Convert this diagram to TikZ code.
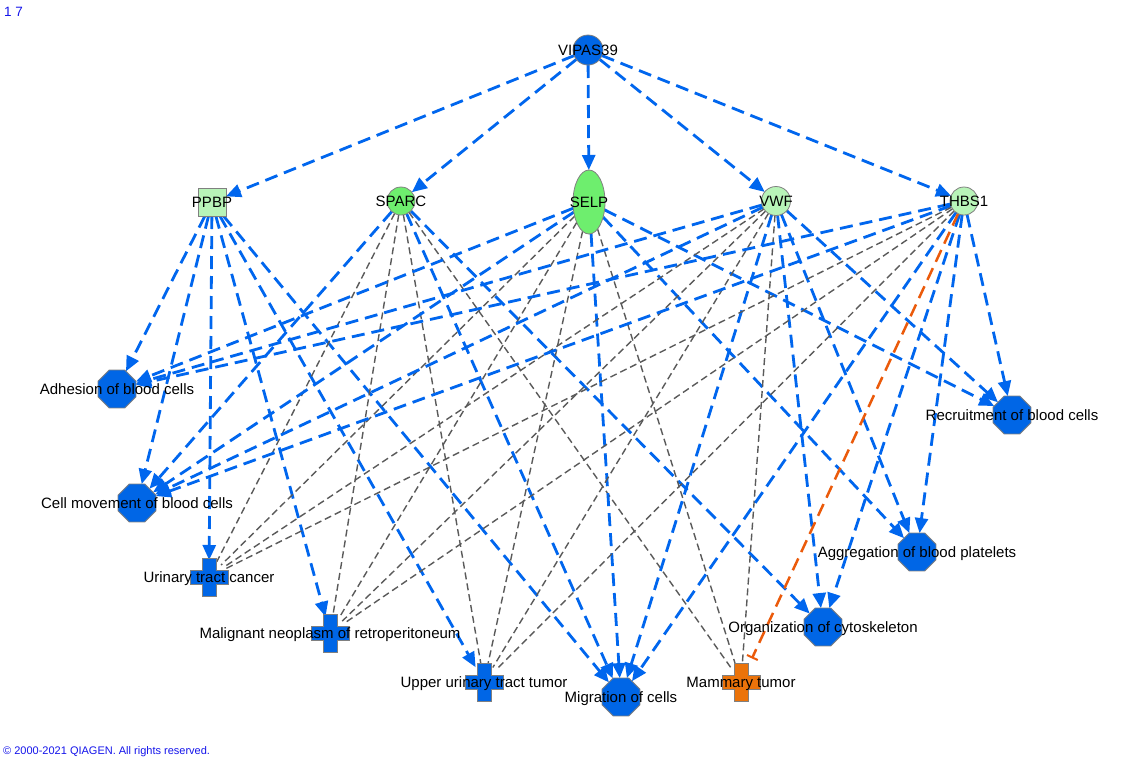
\documentclass[tikz,border=0pt]{standalone}
\usepackage{fontspec}
\setmainfont{Liberation Sans}
\usetikzlibrary{arrows.meta,shapes.geometric}
\definecolor{nblue}{RGB}{0,102,230}
\definecolor{eblue}{RGB}{0,102,238}
\definecolor{lgreen}{RGB}{184,244,184}
\definecolor{mgreen}{RGB}{110,238,110}
\definecolor{norange}{RGB}{235,115,10}
\definecolor{eorange}{RGB}{235,90,10}
\definecolor{egrey}{RGB}{90,90,90}
\definecolor{nborder}{RGB}{128,128,128}
\definecolor{cblue}{RGB}{20,20,235}
\pgfdeclarelayer{bg}
\pgfdeclarelayer{edges}
\pgfsetlayers{bg,edges,main}
\tikzset{
  lbl/.style={font=\fontsize{15}{18}\selectfont, inner sep=0pt, text=black,
    text height=10.7pt, text depth=0pt},
  gene/.style={draw=nborder, line width=0.8pt, inner sep=0pt, outer sep=0pt},
  circ/.style={gene, circle, minimum size=#1},
  octa/.style={gene, regular polygon, regular polygon sides=8, minimum size=41pt, fill=nblue},
  crossanchor/.style={circle, minimum size=34pt, inner sep=0pt, outer sep=0pt, draw=none},
  pics/plus/.style={code={
    \filldraw[fill=#1, draw=nborder, line width=0.8pt]
      (-7,-19) -- (7,-19) -- (7,-7) -- (19,-7) -- (19,7) -- (7,7) -- (7,19)
      -- (-7,19) -- (-7,7) -- (-19,7) -- (-19,-7) -- (-7,-7) -- cycle;
  }},
  act/.style={draw=eblue, line width=2.8pt, dash pattern=on 13pt off 7pt,
    -{Triangle[length=15pt,width=13pt]}},
  rel/.style={draw=egrey, line width=1.4pt, dash pattern=on 7pt off 4pt},
  inh/.style={draw=eorange, line width=2.5pt, dash pattern=on 13pt off 7pt,
    -{Bar[width=12pt,line width=2pt]}, shorten >=9pt},
}
\begin{document}
\begin{tikzpicture}[x=1pt,y=-1pt]
\useasboundingbox (0,0) rectangle (1138,761);
\begin{pgfonlayer}{bg}
\fill[white] (0,0) rectangle (1138,761);
\end{pgfonlayer}

% top-level nodes
\node[circ=30pt, fill=nblue] (vip) at (588,50) {};
\node[gene, rectangle, minimum size=28pt, fill=lgreen] (ppbp) at (212,202) {};
\node[circ=28pt, fill=mgreen] (sparc) at (401,201) {};
\node[gene, ellipse, minimum width=32pt, minimum height=64pt, fill=mgreen] (selp) at (589,202) {};
\node[circ=29pt, fill=lgreen] (vwf) at (776,201) {};
\node[circ=28pt, fill=lgreen] (thbs) at (964,201) {};

% functions (octagons)
\node[octa] (adh) at (117,389) {};
\node[octa] (cell) at (137,503) {};
\node[octa] (rec) at (1012,415) {};
\node[octa] (agg) at (917,552) {};
\node[octa] (org) at (823,627) {};
\node[octa] (mig) at (621,697) {};

% diseases (crosses)
\node[crossanchor] (utc) at (209,577) {};
\node[crossanchor] (mal) at (330,633) {};
\node[crossanchor] (uut) at (484,682) {};
\node[crossanchor] (mam) at (741,682) {};
\pic at (209,577) {plus=nblue};
\pic at (330,633) {plus=nblue};
\pic at (484,682) {plus=nblue};
\pic at (741,682) {plus=norange};

% labels
\node[lbl] (lvip) at (vip.center) {VIPAS39};
\node[lbl] (lppbp) at (ppbp.center) {PPBP};
\node[lbl] (lsparc) at (sparc.center) {SPARC};
\node[lbl] (lselp) at (selp.center) {SELP};
\node[lbl] (lvwf) at (vwf.center) {VWF};
\node[lbl] (lthbs) at (thbs.center) {THBS1};
\node[lbl] (ladh) at (adh.center) {Adhesion of blood cells};
\node[lbl] (lcell) at (cell.center) {Cell movement of blood cells};
\node[lbl] (lrec) at (rec.center) {Recruitment of blood cells};
\node[lbl] (lagg) at (agg.center) {Aggregation of blood platelets};
\node[lbl] (lorg) at (org.center) {Organization of cytoskeleton};
\node[lbl] (lmig) at (mig.center) {Migration of cells};
\node[lbl] (lutc) at (utc.center) {Urinary tract cancer};
\node[lbl] (lmal) at (mal.center) {Malignant neoplasm of retroperitoneum};
\node[lbl] (luut) at (uut.center) {Upper urinary tract tumor};
\node[lbl] (lmam) at (mam.center) {Mammary tumor};

% corner texts
\node[font=\fontsize{13.5}{16}\selectfont, text=cblue, anchor=west, inner sep=0pt] (num) at (4,12) {1 7};
\node[font=\fontsize{11}{13}\selectfont, text=cblue, anchor=west, inner sep=0pt] (copy) at (3,752) {\textcopyright{} 2000-2021 QIAGEN. All rights reserved.};

% edges
\begin{pgfonlayer}{edges}
\foreach \t in {ppbp,sparc,selp,vwf,thbs} \draw[act] (vip) -- (\t);
\foreach \t in {adh,cell,utc,mal,uut,mig} \draw[act] (ppbp) -- (\t);
\foreach \t in {cell,mig,org} \draw[act] (sparc) -- (\t);
\foreach \t in {utc,mal,uut,mam} \draw[rel] (sparc) -- (\t);
\foreach \t in {adh,cell,rec,agg,mig} \draw[act] (selp) -- (\t);
\foreach \t in {utc,mal,uut,mam} \draw[rel] (selp) -- (\t);
\foreach \t in {adh,cell,rec,agg,org,mig} \draw[act] (vwf) -- (\t);
\foreach \t in {utc,mal,uut,mam} \draw[rel] (vwf) -- (\t);
\foreach \t in {adh,cell,rec,agg,org,mig} \draw[act] (thbs) -- (\t);
\foreach \t in {utc,mal,uut} \draw[rel] (thbs) -- (\t);
\draw[inh] (thbs) -- (mam);
\end{pgfonlayer}
\end{tikzpicture}
\end{document}
